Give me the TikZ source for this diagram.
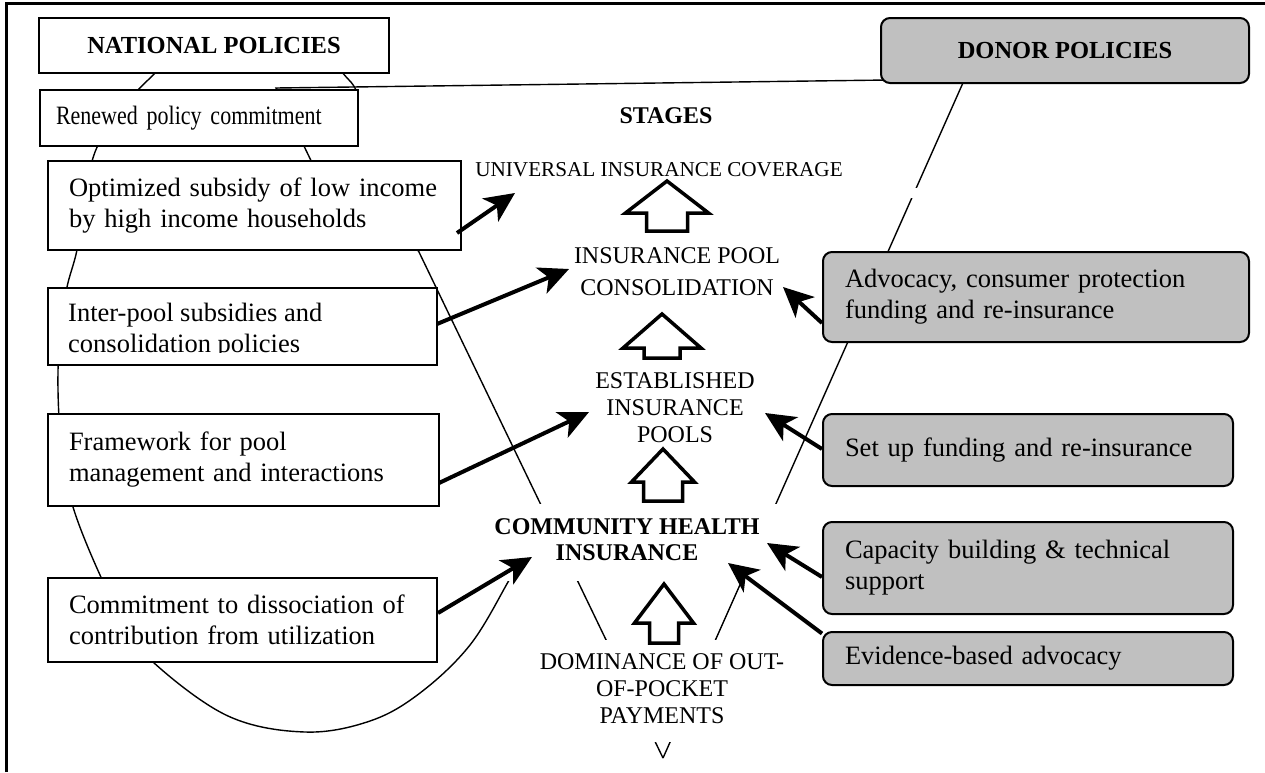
\documentclass[tikz,border=0pt]{standalone}
\usepackage{fontspec}
\setmainfont{Liberation Serif}
\newfontfamily\narrowserif{Liberation Serif}[FakeStretch=0.83]
\usetikzlibrary{arrows.meta,calc}
\definecolor{donorgray}{RGB}{192,192,192}
\pgfdeclarelayer{back}
\pgfsetlayers{back,main}
\begin{document}
\begin{tikzpicture}[x=1pt,y=-1pt,
  thinline/.style={line width=1.4pt},
  headbox/.style={draw, line width=2pt, anchor=north west, inner sep=0pt,
    font=\fontsize{24.5}{28}\selectfont\bfseries},
  natbox/.style={draw, line width=2pt, fill=white, anchor=north west,
    inner ysep=0pt, align=left, font=\fontsize{26.5}{31}\selectfont},
  donbox/.style={natbox, fill=donorgray, rounded corners=9pt},
  stage/.style={font=\fontsize{24}{27}\selectfont, align=center, inner sep=0pt},
  push/.style={line width=4pt, -{Stealth[length=30pt,width=28pt,inset=8pt]}},
  pics/uparrow/.style n args={4}{code={
    \draw[line width=3.5pt, fill=white]
      (0,0) -- (#1/2,#3) -- (#2/2,#3) -- (#2/2,#4) -- (-#2/2,#4)
      -- (-#2/2,#3) -- (-#1/2,#3) -- cycle;}},
]
\useasboundingbox (0,0) rectangle (1265,772);

% national policies
\node[headbox, fill=white, minimum width=350pt, minimum height=55pt] (nat) at (38,17) {NATIONAL POLICIES};
\node[natbox, font=\narrowserif\fontsize{26.5}{31}\selectfont, minimum width=318pt, minimum height=56pt,
  inner xsep=16pt, text width=286pt] (ren) at (39,89) {Renewed policy commitment};
\node[natbox, minimum width=413pt, minimum height=89pt, inner xsep=21pt, text width=371pt]
  (opt) at (47,160) {Optimized subsidy of low income\\by high income households};
\node[natbox, minimum width=389pt, minimum height=77pt] (inter) at (47,287) {};
\node[font=\fontsize{26.5}{31}\selectfont, align=left, anchor=west, inner sep=0pt]
  (intertext) at (68,331) {Inter-pool subsidies and\\consolidation policies};
\fill[white] (49,352.5) rectangle (434,362.8);
\node[natbox, minimum width=391pt, minimum height=92pt, inner xsep=21pt, text width=349pt]
  (frame) at (47,413) {Framework for pool\\management and interactions};
\node[natbox, minimum width=389pt, minimum height=84pt, inner xsep=21pt, text width=347pt]
  (commit) at (47,577) {Commitment to dissociation of\\contribution from utilization};

% donor policies
\node[headbox, fill=donorgray, rounded corners=9pt, minimum width=368pt, minimum height=65pt]
  (donor) at (880,17) {DONOR POLICIES};
\node[donbox, minimum width=426pt, minimum height=90pt, inner xsep=22pt, text width=382pt]
  (adv) at (822,251) {Advocacy, consumer protection\\funding and re-insurance};
\node[donbox, minimum width=410pt, minimum height=72pt, inner xsep=22pt, text width=366pt]
  (setup) at (822,413) {Set up funding and re-insurance};
\node[donbox, minimum width=410pt, minimum height=92pt, inner xsep=22pt, text width=366pt]
  (cap) at (822,521) {Capacity building \& technical\\support};
\node[donbox, minimum width=410pt, minimum height=53pt, inner xsep=22pt, text width=366pt]
  (evid) at (822,631) {Evidence-based advocacy};

% stages
\node[stage, font=\fontsize{24}{28}\selectfont\bfseries] (stg) at (666,116) {STAGES};
\node[stage, font=\fontsize{21.2}{25}\selectfont] (univ) at (659,170) {UNIVERSAL INSURANCE COVERAGE};
\node[stage, font=\fontsize{24}{32}\selectfont] (pool) at (677,272) {INSURANCE POOL\\CONSOLIDATION};
\node[stage] (est) at (675,408) {ESTABLISHED\\INSURANCE\\POOLS};
\node[stage, font=\fontsize{24}{26}\selectfont\bfseries] (chi) at (627,540) {COMMUNITY HEALTH\\INSURANCE};
\node[stage] (oop) at (662,689) {DOMINANCE OF OUT-\\OF-POCKET\\PAYMENTS};

% outlines behind the boxes
\begin{pgfonlayer}{back}
% oval round the national policies (its right side runs behind the stage column)
\draw[thinline] plot[smooth, tension=0.6] coordinates {
  (357,93) (349,80) (318,54) (249,38) (182,54) (148,80) (118,114) (95,152)
  (85,200) (77,250) (67,287) (60,330) (58,390) (62,450) (73,507) (100,575)
  (125,622) (153,662) (228,716) (305,732) (370,721) (420,693) (470,645)
  (508,582) (522,555)};
% triangle of donor influence, closing in the apex below the stages
\coordinate (apex) at (663,758);
\draw[thinline] ($(donor.south west)+(8,-4)$) -- ($(ren.north)+(77,-1)$)
  -- (330,200) -- ($(opt.south)+(164,0)$) -- (apex);
\draw[thinline] ($(donor.south)+(-99,-8)$) -- (apex);
\fill[white] (480,504) rectangle (800,581);
\fill[white] (525,640) rectangle (800,742);
\fill[white] (905,188) rectangle (930,198);
\end{pgfonlayer}

% progression between stages
\pic at (667,181) {uparrow={83}{41}{32}{50}};
\pic at (662,314) {uparrow={78}{36}{34}{44}};
\pic at (663,449) {uparrow={63}{39}{33}{52}};
\pic at (664,584) {uparrow={59}{29}{39}{59}};

% policy influences
\coordinate (ta) at (515,193);
\coordinate (tb) at (569,269);
\coordinate (tc) at (589,412);
\coordinate (td) at (532,557);
\coordinate (te) at (783,287);
\coordinate (tf) at (765,413);
\coordinate (tg) at (767,543);
\coordinate (th) at (728,563);
\draw[push] ($(opt.east)+(-5,27.5)$) -- (ta);
\draw[push] ($(inter.east)+(-1,-2.5)$) -- (tb);
\draw[push] ($(frame.east)+(-1,23)$) -- (tc);
\draw[push] ($(commit.east)+(0,-7)$) -- (td);
\draw[push] ($(adv.west)+(0,26)$) -- (te);
\draw[push] ($(setup.west)+(0,-1)$) -- (tf);
\draw[push] ($(cap.west)+(0,9)$) -- (tg);
\draw[push] ($(evid.west)+(0,-25)$) -- (th);

% page frame
\draw[line width=3.5pt] (6.5,772) -- (6.5,3.5) -- (1265,3.5);
\end{tikzpicture}
\end{document}
